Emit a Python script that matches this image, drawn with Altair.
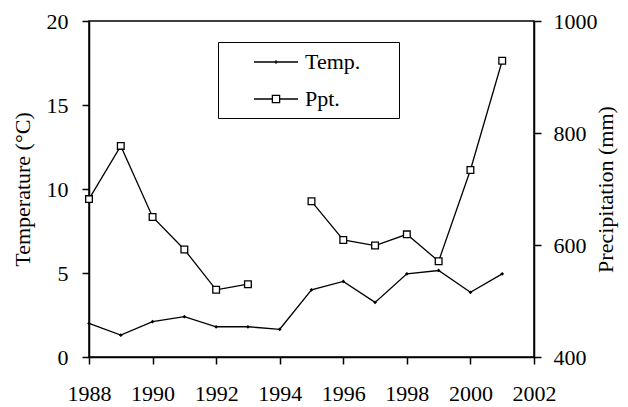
import altair as alt
import pandas as pd

years = [1988, 1989, 1990, 1991, 1992, 1993, 1994, 1995, 1996, 1997, 1998, 1999, 2000, 2001]
temp = [2.0, 1.3, 2.1, 2.4, 1.8, 1.8, 1.65, 4.0, 4.5, 3.25, 4.95, 5.15, 3.85, 4.95]
ppt = [682, 777, 650, 592, 520, 530, None, 678, 609, 599, 619, 571, 734, 929]
x_ticks = [1988, 1990, 1992, 1994, 1996, 1998, 2000, 2002]
temp_ticks = [0, 5, 10, 15, 20]
ppt_ticks = [400, 600, 800, 1000]
series = ["Temp.", "Ppt."]

seg = []
s = 0
for v in ppt:
    if v is None:
        s += 1
    seg.append(s)
df = pd.DataFrame({"year": years, "temp": temp, "ppt": ppt, "seg": seg})

FONT = "Liberation Serif, Times New Roman, serif"

x_enc = alt.X(
    "year:Q",
    scale=alt.Scale(domain=[1988, 2002], nice=False, zero=False),
    axis=alt.Axis(values=x_ticks, format="d", title=None, labelPadding=19,
                  labelFlush=False, labelOverlap=False),
)

y_temp = alt.Y(
    "temp:Q",
    scale=alt.Scale(domain=[0, 20], nice=False),
    axis=alt.Axis(values=temp_ticks, format="d", title="Temperature (°C)", orient="left",
                  labelPadding=14, titlePadding=12, labelFlush=False),
)
y_ppt = alt.Y(
    "ppt:Q",
    scale=alt.Scale(domain=[400, 1000], nice=False, zero=False),
    axis=alt.Axis(values=ppt_ticks, format="d", title="Precipitation (mm)", orient="right",
                  labelPadding=12, titlePadding=-2, titleAngle=270, titleBaseline="top",
                  labelFlush=False),
)

base = alt.Chart(df)

temp_line = base.mark_line(color="black", strokeWidth=1.3).encode(x=x_enc, y=y_temp)
temp_pts = base.mark_point(shape="diamond", filled=True, color="black", size=14, opacity=1).encode(x=x_enc, y=y_temp)

ppt_data = base.transform_filter("isValid(datum.ppt)")
ppt_line = ppt_data.mark_line(color="black", strokeWidth=1.3).encode(x=x_enc, y=y_ppt, detail="seg:N")
ppt_pts = ppt_data.mark_point(shape="square", filled=True, fill="white", stroke="black",
                              strokeWidth=1.3, size=45, opacity=1).encode(x=x_enc, y=y_ppt)

# legend symbols: a short line with the series marker (unit = 11 px);
# the final zero-length segment only widens the legend box to the right
temp_sym = "M-2,0H2M0,-0.16V0.16M10.2,0L10.2,0"
ppt_sym = "M-2,0H-0.33M0.33,0H2M-0.33,-0.33H0.33V0.33H-0.33ZM10.2,0L10.2,0"

legend_layer = base.transform_filter("false").mark_point(
    filled=False, color="black", strokeWidth=1.3, opacity=1
).encode(
    shape=alt.Shape(
        "series:N",
        scale=alt.Scale(domain=series, range=[temp_sym, ppt_sym]),
        legend=alt.Legend(
            title=None, orient="none", legendX=129, legendY=21,
            strokeColor="black", fillColor="white", padding=8,
            labelFont=FONT, labelFontSize=22, labelColor="black",
            symbolSize=484, symbolStrokeWidth=1.3, symbolStrokeColor="black",
            symbolOpacity=1, symbolOffset=38, labelOffset=17, rowPadding=14,
        ),
    )
)

left = alt.layer(temp_line, temp_pts, legend_layer)
right = alt.layer(ppt_line, ppt_pts)

chart = alt.layer(left, right).resolve_scale(y="independent").properties(
    width=445, height=336,
    padding={"left": 81, "top": 13, "right": 86, "bottom": 50},
    autosize=alt.AutoSizeParams(type="none"),
).configure_view(
    stroke="black", strokeWidth=1.5
).configure_axis(
    domainColor="black", domainWidth=1.5, tickColor="black", tickWidth=1.5, tickSize=7,
    labelFont=FONT, labelFontSize=22, labelColor="black", grid=False,
    titleFont=FONT, titleFontSize=22, titleFontWeight="normal", titleColor="black",
)

chart.save("out.html", embed_options={"renderer": "svg", "actions": False})
